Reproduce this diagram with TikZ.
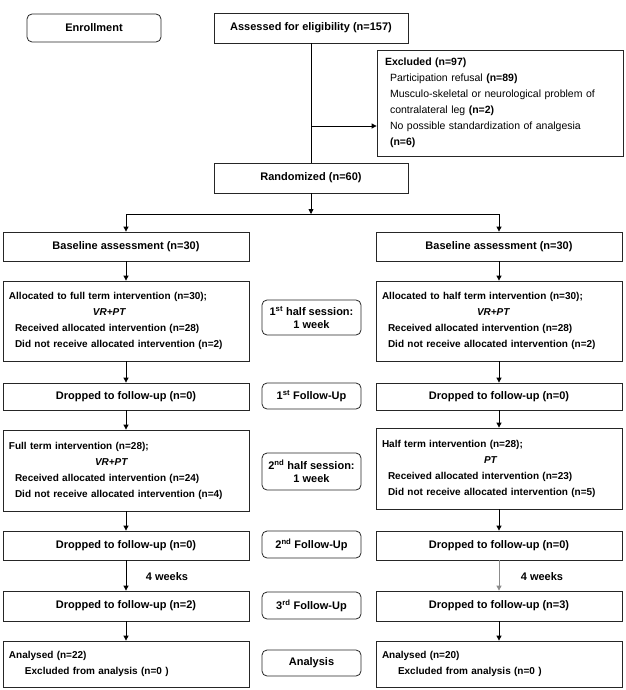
\documentclass[tikz,border=0pt]{standalone}
\usepackage{fontspec}
\setmainfont{Liberation Sans}
\usetikzlibrary{arrows.meta}

\begin{document}
\begin{tikzpicture}[x=1pt, y=-1pt, line width=0.8pt,
    box/.style={draw=black!85, inner sep=0pt, font=\bfseries\fontsize{11}{13}\selectfont},
    lbox/.style={box, align=left, minimum width=246pt, text width=234pt, font=\bfseries\fontsize{10}{16}\selectfont},
    rbox/.style={box, rounded corners=5pt, align=center},
    arr/.style={-{Triangle[length=5pt, width=5pt]}}]
\useasboundingbox (0,0) rectangle (625,690);

% top part
\node[rbox, minimum width=134pt, minimum height=28pt] (enrol) at (94,28) {Enrollment};
\node[box, minimum width=194pt, minimum height=30pt] (assess) at (311,28) {Assessed for eligibility (n=157)};
\node[box, minimum width=246pt, minimum height=106pt, text width=230pt, align=left,
      font=\fontsize{10.5}{16}\selectfont] (excl) at (500,103)
    {\textbf{Excluded (n=97)}\\
     \hspace*{5pt}Participation refusal \textbf{(n=89)}\\
     \hspace*{5pt}Musculo-skeletal or neurological problem of\\
     \hspace*{5pt}contralateral leg \textbf{(n=2)}\\
     \hspace*{5pt}No possible standardization of analgesia\\
     \hspace*{5pt}\textbf{(n=6)}};
\node[box, minimum width=194pt, minimum height=30pt] (rand) at (311,178) {Randomized (n=60)};
\coordinate (exclin) at (311,126);
\coordinate (split) at (311,214);

\draw (assess.south) -- (rand.north);
\draw[arr] (exclin) -- (exclin -| excl.west);
\draw[arr] (rand.south) -- (split);

% two arms
\node[box, minimum width=246pt, minimum height=29pt] (baseL) at (126,246.5) {Baseline assessment (n=30)};
\node[box, minimum width=246pt, minimum height=29pt] (baseR) at (499,246.5) {Baseline assessment (n=30)};
\draw[arr] (split) -| (baseL);
\draw[arr] (split) -| (baseR);

\node[lbox, minimum height=80pt] (allocL) at (126,321)
    {Allocated to full term intervention (n=30);\\
     \hspace*{84pt}\textit{VR+PT}\\
     \hspace*{6pt}Received allocated intervention (n=28)\\
     \hspace*{6pt}Did not receive allocated intervention (n=2)};
\node[lbox, minimum height=80pt] (allocR) at (499,321)
    {Allocated to half term intervention (n=30);\\
     \hspace*{95pt}\textit{VR+PT}\\
     \hspace*{6pt}Received allocated intervention (n=28)\\
     \hspace*{6pt}Did not receive allocated intervention (n=2)};

\node[lbox, minimum height=81pt] (fullL) at (126,470.5)
    {Full term intervention (n=28);\\
     \hspace*{86pt}\textit{VR+PT}\\
     \hspace*{6pt}Received allocated intervention (n=24)\\
     \hspace*{6pt}Did not receive allocated intervention (n=4)};
\node[lbox, minimum height=81pt] (halfR) at (499,468.5)
    {Half term intervention (n=28);\\
     \hspace*{102pt}\textit{PT}\\
     \hspace*{6pt}Received allocated intervention (n=23)\\
     \hspace*{6pt}Did not receive allocated intervention (n=5)};

\foreach \n/\y/\h/\a/\b in {1/396.5/27/0/0, 2/545.5/29/0/0, 3/606/30/2/3} {
  \node[box, minimum width=246pt, minimum height=\h pt] (dropL\n) at (126,\y) {Dropped to follow-up (n=\a)};
  \node[box, minimum width=246pt, minimum height=\h pt] (dropR\n) at (499,\y) {Dropped to follow-up (n=\b)};
}

\node[lbox, minimum height=46pt] (anaL) at (126,664)
    {Analysed (n=22)\\ \hspace*{16pt}Excluded from analysis (n=0 )};
\node[lbox, minimum height=46pt] (anaR) at (499,664)
    {Analysed (n=20)\\ \hspace*{16pt}Excluded from analysis (n=0 )};

\node[font=\bfseries\fontsize{11}{13}\selectfont] (wkL) at (167,577) {4 weeks};
\node[font=\bfseries\fontsize{11}{13}\selectfont] (wkR) at (542,577) {4 weeks};

\foreach \a/\b in {baseL/allocL, allocL/dropL1, dropL1/fullL, fullL/dropL2, dropL2/dropL3, dropL3/anaL,
                   baseR/allocR, allocR/dropR1, dropR1/halfR, halfR/dropR2, dropR3/anaR}
  \draw[arr] (\a) -- (\b);
\draw[arr, draw=black!45] (dropR2) -- (dropR3);

% stage labels
\foreach \n/\y/\h/\t in {half1/317.5/35/{1\textsuperscript{st} half session:\\1 week},
                         fu1/396/26/{1\textsuperscript{st} Follow-Up},
                         half2/471.5/37/{2\textsuperscript{nd} half session:\\1 week},
                         fu2/544.5/27/{2\textsuperscript{nd} Follow-Up},
                         fu3/605.5/27/{3\textsuperscript{rd} Follow-Up},
                         ana/663/26/{Analysis}}
  \node[rbox, minimum width=99pt, minimum height=\h pt] (\n) at (311.5,\y) {\t};
\end{tikzpicture}
\end{document}
